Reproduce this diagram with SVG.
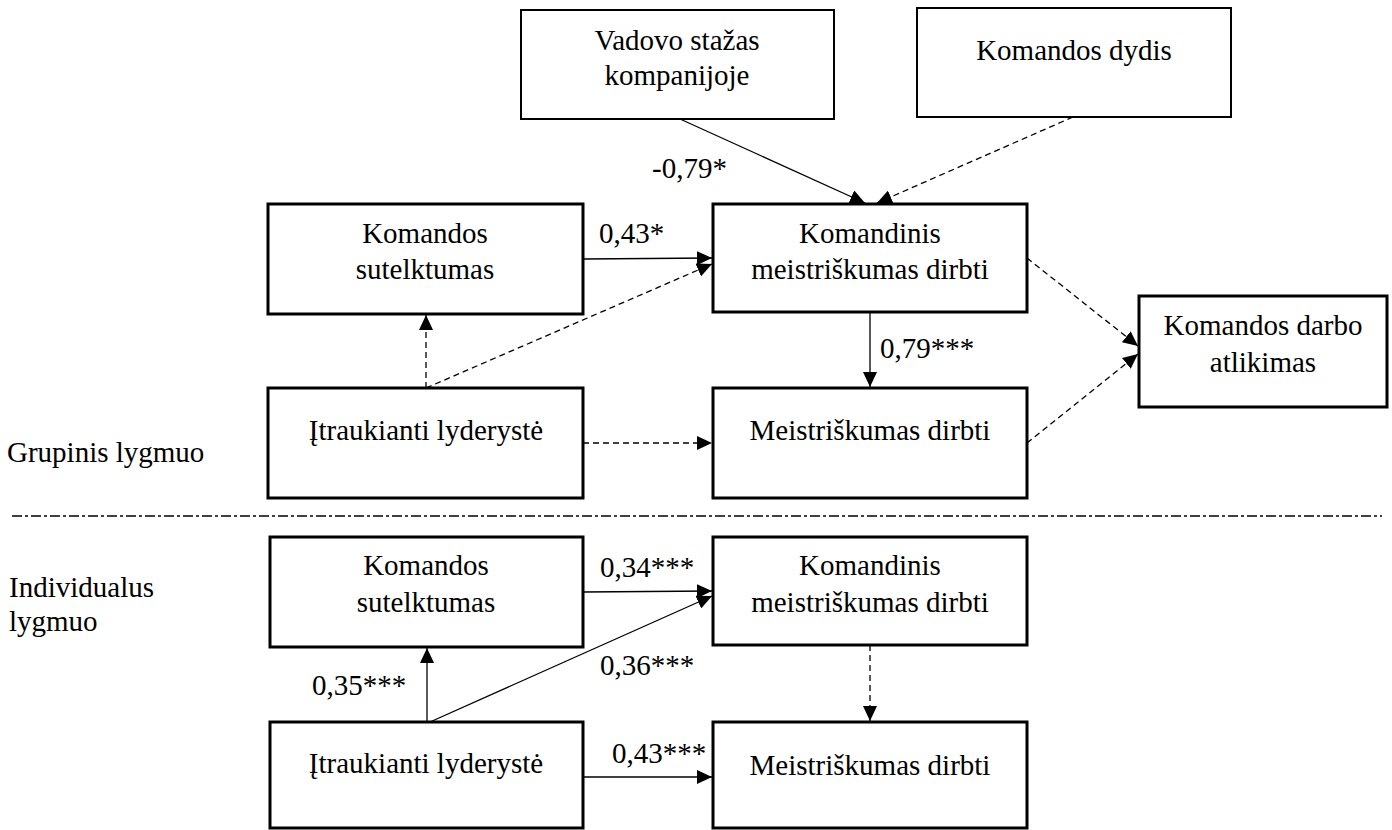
<svg xmlns="http://www.w3.org/2000/svg" width="1392" height="830" viewBox="0 0 1392 830">
  <defs>
    <style>
      text { font-family: "Liberation Serif", "Times New Roman", serif; font-size: 29px; fill: #000; }
      .c { text-anchor: middle; }
      .box { fill: #fff; stroke: #000; stroke-width: 3; }
      .thin { stroke-width: 2; }
      .edge { fill: none; stroke: #000; stroke-width: 1.3; }
      .dash { stroke-dasharray: 6 4; }
      .level { fill: none; stroke: #000; stroke-width: 1.3; stroke-dasharray: 10 3 3 3; }
    </style>
    <marker id="arrow" markerUnits="userSpaceOnUse" markerWidth="16" markerHeight="14" refX="15" refY="7" orient="auto">
      <path d="M0,0 L15,7 L0,14 Z" fill="#000"/>
    </marker>
  </defs>

  <rect width="1392" height="830" fill="#fff"/>

  <!-- level labels and separator -->
  <text x="7" y="462">Grupinis lygmuo</text>
  <text x="9" y="597">Individualus</text>
  <text x="9" y="631">lygmuo</text>
  <line class="level" x1="12" y1="516" x2="1382" y2="516"/>

  <!-- connectors -->
  <g id="connectors">
    <line class="edge" x1="680" y1="119" x2="865" y2="203" marker-end="url(#arrow)"/>
    <line class="edge dash" x1="1073" y1="117" x2="877" y2="203" marker-end="url(#arrow)"/>
    <line class="edge" x1="583" y1="259" x2="712" y2="258" marker-end="url(#arrow)"/>
    <line class="edge dash" x1="426" y1="388" x2="712" y2="264" marker-end="url(#arrow)"/>
    <line class="edge dash" x1="426" y1="388" x2="426" y2="315" marker-end="url(#arrow)"/>
    <line class="edge dash" x1="583" y1="443" x2="712" y2="443" marker-end="url(#arrow)"/>
    <line class="edge" x1="870" y1="312" x2="870" y2="387" marker-end="url(#arrow)"/>
    <line class="edge dash" x1="1027" y1="258" x2="1138" y2="346" marker-end="url(#arrow)"/>
    <line class="edge dash" x1="1027" y1="443" x2="1138" y2="354" marker-end="url(#arrow)"/>

    <line class="edge" x1="583" y1="592" x2="712" y2="591" marker-end="url(#arrow)"/>
    <line class="edge" x1="430" y1="722" x2="712" y2="596" marker-end="url(#arrow)"/>
    <line class="edge" x1="427" y1="722" x2="427" y2="648" marker-end="url(#arrow)"/>
    <line class="edge dash" x1="870" y1="645" x2="870" y2="721" marker-end="url(#arrow)"/>
    <line class="edge" x1="583" y1="777" x2="712" y2="777" marker-end="url(#arrow)"/>

    <text x="652" y="178">-0,79*</text>
    <text x="599" y="243">0,43*</text>
    <text x="880" y="358">0,79***</text>
    <text x="600" y="577">0,34***</text>
    <text x="600" y="675">0,36***</text>
    <text x="312" y="695">0,35***</text>
    <text x="612" y="763">0,43***</text>
  </g>

  <!-- group level nodes -->
  <g id="vadovo-stazas">
    <rect class="box thin" x="521" y="10" width="313" height="109"/>
    <text class="c" x="677" y="50">Vadovo stažas</text>
    <text class="c" x="677" y="85">kompanijoje</text>
  </g>
  <g id="komandos-dydis">
    <rect class="box thin" x="917" y="8" width="314" height="109"/>
    <text class="c" x="1074" y="60">Komandos dydis</text>
  </g>
  <g id="g-sutelktumas">
    <rect class="box" x="268" y="204" width="315" height="110"/>
    <text class="c" x="425" y="243">Komandos</text>
    <text class="c" x="425" y="279">sutelktumas</text>
  </g>
  <g id="g-komandinis">
    <rect class="box" x="713" y="204" width="314" height="108"/>
    <text class="c" x="870" y="243">Komandinis</text>
    <text class="c" x="870" y="279">meistriškumas dirbti</text>
  </g>
  <g id="g-itraukianti">
    <rect class="box" x="268" y="388" width="315" height="110"/>
    <text class="c" x="426" y="440">Įtraukianti lyderystė</text>
  </g>
  <g id="g-meistriskumas">
    <rect class="box" x="713" y="388" width="314" height="110"/>
    <text class="c" x="870" y="440">Meistriškumas dirbti</text>
  </g>
  <g id="darbo-atlikimas">
    <rect class="box" x="1139" y="296" width="248" height="111"/>
    <text class="c" x="1263" y="335">Komandos darbo</text>
    <text class="c" x="1263" y="372">atlikimas</text>
  </g>

  <!-- individual level nodes -->
  <g id="i-sutelktumas">
    <rect class="box" x="270" y="537" width="313" height="110"/>
    <text class="c" x="426" y="575">Komandos</text>
    <text class="c" x="426" y="612">sutelktumas</text>
  </g>
  <g id="i-komandinis">
    <rect class="box" x="713" y="537" width="314" height="108"/>
    <text class="c" x="870" y="575">Komandinis</text>
    <text class="c" x="870" y="612">meistriškumas dirbti</text>
  </g>
  <g id="i-itraukianti">
    <rect class="box" x="270" y="722" width="313" height="106"/>
    <text class="c" x="426" y="773">Įtraukianti lyderystė</text>
  </g>
  <g id="i-meistriskumas">
    <rect class="box" x="713" y="722" width="314" height="106"/>
    <text class="c" x="870" y="775">Meistriškumas dirbti</text>
  </g>
</svg>
